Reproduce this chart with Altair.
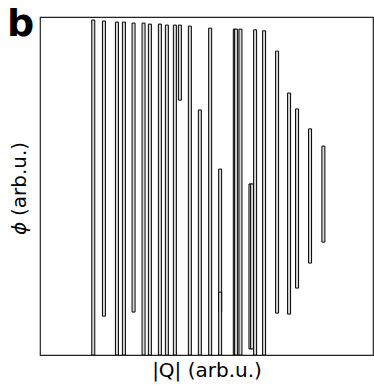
import altair as alt
import pandas as pd

# |Q| centre of each segment (arb. units, 0..1 across the frame)
q = [0.160, 0.192, 0.231, 0.252, 0.281, 0.311, 0.330, 0.360, 0.381, 0.405,
     0.420, 0.450, 0.480, 0.511, 0.541, 0.541, 0.585, 0.589, 0.602, 0.632,
     0.637, 0.646, 0.673, 0.712, 0.748, 0.772, 0.811, 0.851]
# phi range of each segment (arb. units, 0..1)
phi_lo = [0.000, 0.115, 0.000, 0.000, 0.127, 0.000, 0.000, 0.000, 0.000, 0.000,
          0.754, 0.000, 0.000, 0.000, 0.127, 0.000, 0.000, 0.000, 0.000, 0.018,
          0.018, 0.000, 0.000, 0.124, 0.121, 0.198, 0.272, 0.334]
phi_hi = [0.991, 0.988, 0.985, 0.985, 0.982, 0.982, 0.979, 0.979, 0.976, 0.976,
          0.976, 0.973, 0.725, 0.967, 0.550, 0.186, 0.964, 0.964, 0.964, 0.506,
          0.506, 0.962, 0.959, 0.899, 0.775, 0.728, 0.669, 0.618]

df = pd.DataFrame({"q": q, "lo": phi_lo, "hi": phi_hi})

FONT = "DejaVu Sans"

bars = alt.Chart(df).mark_bar(
    size=3, fill="#d8d8d8", stroke="black", strokeWidth=1, clip=True
).encode(
    x=alt.X("q:Q", scale=alt.Scale(domain=[0, 1], nice=False, zero=False, padding=0),
            axis=alt.Axis(title="|Q| (arb.u.)", labels=False, ticks=False, grid=False,
                          domain=False, titleFontSize=20, titleFont=FONT,
                          titleFontWeight="normal", titleColor="black", titlePadding=5)),
    y=alt.Y("lo:Q", scale=alt.Scale(domain=[0, 1], nice=False, zero=False, padding=0),
            axis=alt.Axis(title="", labels=False, ticks=False, grid=False,
                          domain=False)),
    y2="hi:Q",
)

label = alt.Chart(pd.DataFrame({"t": ["b"]})).mark_text(
    font=FONT, fontSize=38, fontWeight="bold", align="left", baseline="alphabetic",
    color="black"
).encode(x=alt.value(-33), y=alt.value(19), text="t:N")

ytitle_sym = alt.Chart(pd.DataFrame({"t": ["ϕ"]})).mark_text(
    font=FONT, fontSize=20, fontStyle="italic", angle=270, align="left",
    baseline="middle", color="black"
).encode(x=alt.value(-20), y=alt.value(218), text="t:N")

ytitle_rest = alt.Chart(pd.DataFrame({"t": ["(arb.u.)"]})).mark_text(
    font=FONT, fontSize=20, angle=270, align="left",
    baseline="middle", color="black"
).encode(x=alt.value(-20), y=alt.value(199), text="t:N")

chart = alt.layer(bars, label, ytitle_sym, ytitle_rest).properties(
    width=333, height=338,
    padding={"left": 40, "top": 17, "right": 1, "bottom": 31},
    autosize=alt.AutoSizeParams(type="none"),
).configure_view(stroke="#222222", strokeWidth=1.2)

chart.save("out.html", embed_options={"renderer": "svg", "actions": False})
